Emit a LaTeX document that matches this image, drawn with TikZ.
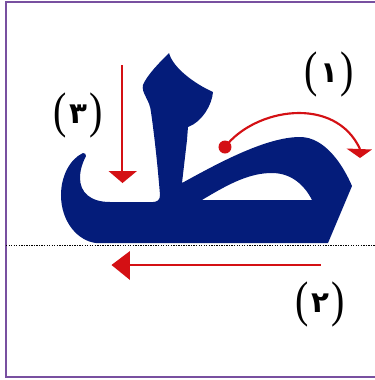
\documentclass[tikz,border=0pt]{standalone}
\usepackage{fontspec}
\newfontfamily\arabicfont[Script=Arabic]{DejaVu Sans}
\newfontfamily\parenfont{Liberation Serif}
\TeXXeTstate=1
\definecolor{letterblue}{RGB}{4,28,122}
\definecolor{arrowred}{RGB}{212,16,20}
\definecolor{framepurple}{RGB}{120,80,160}
\newcommand\arabdigit[1]{\hspace{2pt}\raisebox{3pt}{\arabicfont\bfseries\fontsize{22}{26}\selectfont\beginR #1\endR}\hspace{2pt}}
\newcommand\lpar{\scalebox{1}[1.25]{(}}
\newcommand\rpar{\scalebox{1}[1.25]{)}}
\tikzset{
  lbl/.style={inner sep=0pt, font=\parenfont\fontsize{30}{36}\selectfont},
  redline/.style={draw=arrowred, line width=1.6pt},
  redhead/.style={fill=arrowred},
}
\begin{document}
\begin{tikzpicture}[x=0.75pt,y=-0.75pt]
\useasboundingbox (0,0) rectangle (375,380);
\fill[white] (0,0) rectangle (375,380);
\draw[framepurple, line width=1.5pt] (6,2) rectangle (376,377);

% baseline
\coordinate (bl) at (6,245.5);
\coordinate (br) at (375,245.5);
\draw[black, line width=1.3pt, dash pattern=on 1pt off 0.9pt] (bl) -- (br);

% the letter
\fill[letterblue, even odd rule]
 (83,153) .. controls (70,159) and (61,176) .. (61,195)
 .. controls (61,222) and (78,241) .. (96,243)
 -- (328,243) -- (352,186)
 .. controls (343,165) and (325,137) .. (300,137)
 .. controls (265,137) and (215,165) .. (182,183)
 -- (187,140) -- (188,127)
 .. controls (202,122) and (212,105) .. (213,92)
 .. controls (195,84) and (173,68) .. (169,53)
 .. controls (160,62) and (147,75) .. (143,85)
 .. controls (141,93) and (150,100) .. (151,112)
 .. controls (155,140) and (158,170) .. (160,195)
 .. controls (160,200) and (157,202) .. (153,202)
 -- (110,202)
 .. controls (90,202) and (80,192) .. (80,178)
 .. controls (80,168) and (84,160) .. (86,156)
 .. controls (86,154) and (85,153) .. cycle
 (202,200) .. controls (230,183) and (250,173) .. (272,173)
 .. controls (292,173) and (305,186) .. (312,200) -- cycle;

% arrow 3 (down)
\coordinate (a3s) at (122,65);
\coordinate (a3e) at (122,172);
\draw[redline] (a3s) -- (a3e);
\fill[redhead] (108.5,171) -- (137,171) -- (122.5,183) -- cycle;

% arrow 2 (left)
\coordinate (a2s) at (321,265);
\coordinate (a2e) at (128,265);
\draw[redline] (a2s) -- (a2e);
\fill[redhead] (111.5,265) -- (130,251) -- (130,280) -- cycle;

% arrow 1 (curved)
\coordinate (a1s) at (225,147);
\coordinate (a1e) at (360,149);
\fill[arrowred] (a1s) circle[radius=6.5];
\draw[redline] (a1s) .. controls (255,108) and (335,95) .. (a1e);
\fill[redhead] (346.5,148.5) -- (372,149.5) -- (360,158) -- cycle;

% labels
\node[lbl] (n1) at (329,74) {\lpar\arabdigit{١}\rpar};
\node[lbl] (n2) at (320,304) {\lpar\arabdigit{٢}\rpar};
\node[lbl] (n3) at (78,115) {\lpar\arabdigit{٣}\rpar};
\end{tikzpicture}
\end{document}
